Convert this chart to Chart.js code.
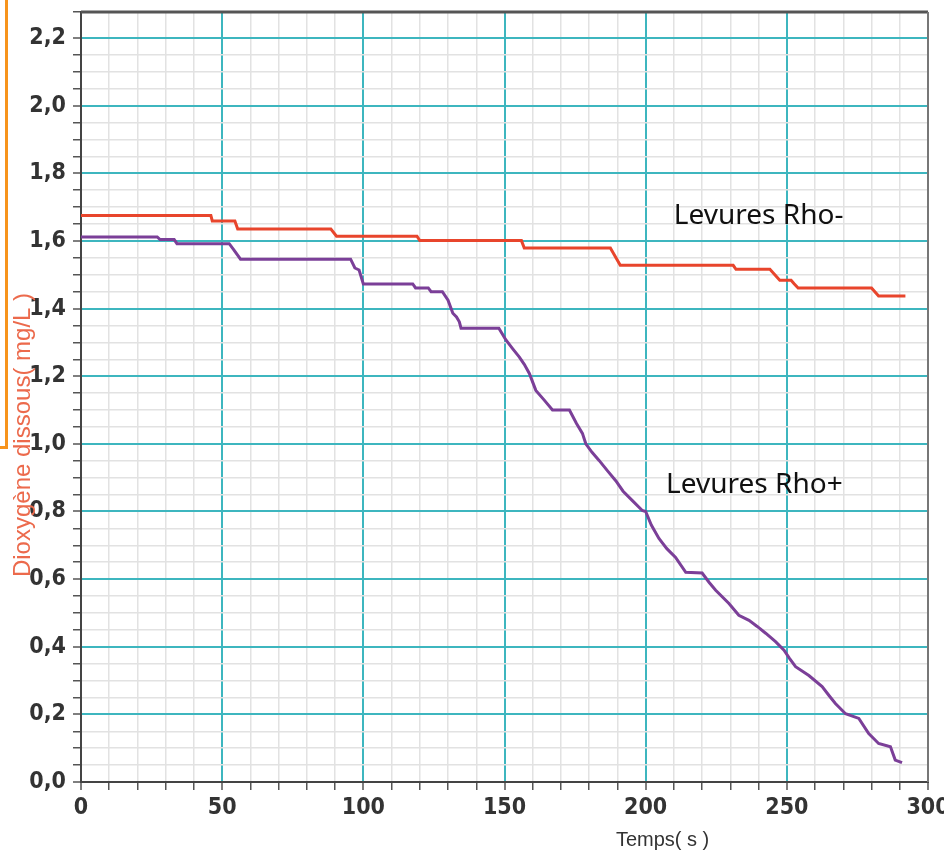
<!DOCTYPE html>
<html lang="fr">
<head>
<meta charset="UTF-8">
<title>Dioxygène dissous - Levures Rho+ / Rho-</title>
<script src="https://cdn.jsdelivr.net/npm/chart.js@4.4.1/dist/chart.umd.min.js"></script>
<style>
    body { margin: 0; background: #fff; }
    .cadre { position: relative; width: 944px; height: 853px; overflow: hidden; }
    .trait-orange {
        position: absolute; left: -10px; top: -10px; width: 15px; height: 456px;
        border-right: 3px solid #f7941d; border-bottom: 3px solid #f7941d;
    }
</style>
</head>
<body>
<div class="cadre">
    <canvas id="graphO2" width="944" height="853"></canvas>
    <div class="trait-orange"></div>
</div>
<script>
const tempsRhoMoins = [0, 46, 46.5, 54.5, 55.5, 88.5, 90.5, 119, 120, 156, 157, 187.5, 191, 231, 232, 244, 247.5, 251.5, 252.5, 254, 280, 282.5, 292];
const o2RhoMoins = [1.675, 1.675, 1.659, 1.659, 1.635, 1.635, 1.614, 1.614, 1.601, 1.601, 1.579, 1.579, 1.528, 1.528, 1.516, 1.516, 1.484, 1.484, 1.474, 1.461, 1.461, 1.437, 1.437];

const tempsRhoPlus = [0, 27, 28, 33, 34, 52.5, 54, 56.5, 95.5, 97, 98.5, 100, 117.5, 118.5, 123, 124, 128, 130, 131.7, 133, 134, 134.6, 148,
    150.5, 153, 155.2, 157, 158.8, 161.1, 164, 167, 173, 175.5, 177.6, 178.8, 181, 183.5, 186.5, 189.4, 192, 195.3, 198.8, 200,
    202, 204.7, 207.5, 210.6, 214.2, 220, 222.5, 224.8, 229.5, 233, 236.6, 239.5, 242.5, 246, 249, 251, 253.1, 257.8, 262.5,
    265, 267.2, 270.8, 275.5, 279, 282.5, 286.7, 288.4, 290.8];
const o2RhoPlus = [1.612, 1.612, 1.604, 1.604, 1.592, 1.592, 1.575, 1.546, 1.546, 1.52, 1.514, 1.473, 1.473, 1.461, 1.461, 1.45, 1.45, 1.425, 1.386, 1.375, 1.361, 1.342, 1.342,
    1.307, 1.28, 1.257, 1.235, 1.208, 1.158, 1.13, 1.1, 1.1, 1.06, 1.031, 1.0, 0.975, 0.951, 0.92, 0.891, 0.86, 0.832, 0.803, 0.8,
    0.76, 0.72, 0.69, 0.664, 0.62, 0.618, 0.59, 0.567, 0.528, 0.493, 0.478, 0.46, 0.44, 0.415, 0.39, 0.365, 0.341, 0.315, 0.282,
    0.255, 0.232, 0.202, 0.188, 0.143, 0.114, 0.104, 0.065, 0.057];

const ticksTemps = [0, 50, 100, 150, 200, 250, 300];
const ticksO2 = [0, 0.2, 0.4, 0.6, 0.8, 1.0, 1.2, 1.4, 1.6, 1.8, 2.0, 2.2];

// 2. STYLES
const TURQUOISE = '#3db6bf';
const GRIS_CLAIR = '#e2e2e2';
const POLICE_TICKS = { family: "'Liberation Sans Narrow', 'DejaVu Sans Condensed', Arial, sans-serif", size: 23, weight: 'bold' };

function estMajeur(valeur, liste) {
    return liste.some(t => Math.abs(t - valeur) < 1e-6);
}

function versPoints(xs, ys) {
    return xs.map((x, i) => ({ x: x, y: ys[i] }));
}

// 3. TEXTES ET CADRE (titres, étiquettes des courbes)
const pluginTextes = {
    id: 'textes',
    afterDraw(chart) {
        const ctx = chart.ctx;
        const zone = chart.chartArea;
        const sx = chart.scales.x;
        const sy = chart.scales.y;

        // cadre haut et droite
        ctx.save();
        ctx.strokeStyle = '#555';
        ctx.lineWidth = 3;
        ctx.beginPath();
        ctx.moveTo(zone.left, zone.top);
        ctx.lineTo(zone.right, zone.top);
        ctx.stroke();
        ctx.strokeStyle = '#777';
        ctx.lineWidth = 2;
        ctx.beginPath();
        ctx.moveTo(zone.right, zone.top);
        ctx.lineTo(zone.right, zone.bottom);
        ctx.stroke();

        // titre axe Y
        ctx.fillStyle = '#ec6a4c';
        ctx.font = "24px 'Liberation Sans', Arial, sans-serif";
        ctx.textAlign = 'center';
        ctx.textBaseline = 'middle';
        ctx.translate(23, 435);
        ctx.rotate(-Math.PI / 2);
        ctx.fillText('Dioxygène dissous( mg/L )', 0, 0);
        ctx.restore();

        // titre axe X
        ctx.save();
        ctx.fillStyle = '#333';
        ctx.font = "20px 'Liberation Sans', Arial, sans-serif";
        ctx.textAlign = 'center';
        ctx.textBaseline = 'middle';
        ctx.fillText('Temps( s )', sx.getPixelForValue(206), 840);

        // étiquettes des courbes
        ctx.fillStyle = '#111';
        ctx.font = "28px 'Noto Sans', sans-serif";
        ctx.textBaseline = 'alphabetic';
        ctx.fillText('Levures Rho-', sx.getPixelForValue(240), sy.getPixelForValue(1.649));
        ctx.fillText('Levures Rho+', sx.getPixelForValue(238.5), sy.getPixelForValue(0.855));
        ctx.restore();
    }
};

// 4. GRAPHIQUE
new Chart(document.getElementById('graphO2'), {
    type: 'line',
    data: {
        datasets: [
            {
                label: 'Levures Rho+',
                data: versPoints(tempsRhoPlus, o2RhoPlus),
                borderColor: '#7b3f98',
                borderWidth: 3,
                pointRadius: 0,
                tension: 0
            },
            {
                label: 'Levures Rho-',
                data: versPoints(tempsRhoMoins, o2RhoMoins),
                borderColor: '#e8452c',
                borderWidth: 3,
                pointRadius: 0,
                tension: 0
            }
        ]
    },
    options: {
        responsive: false,
        animation: false,
        layout: { padding: { top: 12, right: 16, left: 0, bottom: 0 } },
        plugins: { legend: { display: false }, tooltip: { enabled: false } },
        scales: {
            x: {
                type: 'linear',
                min: 0,
                max: 300,
                afterFit: (scale) => {
                    scale.height = 71;
                    scale.paddingLeft = 0;
                    scale.paddingRight = 0;
                },
                ticks: {
                    stepSize: 10,
                    autoSkip: false,
                    maxRotation: 0,
                    padding: 4,
                    color: '#333',
                    font: POLICE_TICKS,
                    callback: (v) => estMajeur(v, ticksTemps) ? String(v) : ''
                },
                grid: {
                    color: (c) => estMajeur(c.tick.value, ticksTemps) ? TURQUOISE : GRIS_CLAIR,
                    lineWidth: (c) => estMajeur(c.tick.value, ticksTemps) ? 2 : 1.5,
                    tickColor: '#555',
                    tickLength: 8,
                    tickWidth: 1.5
                },
                border: { color: '#444', width: 2 }
            },
            y: {
                min: 0,
                max: 2.277,
                afterFit: (scale) => {
                    scale.width = 81;
                    scale.paddingTop = 0;
                    scale.paddingBottom = 0;
                },
                ticks: {
                    stepSize: 0.05,
                    autoSkip: false,
                    maxTicksLimit: 100,
                    padding: 7,
                    color: '#333',
                    font: POLICE_TICKS,
                    callback: (v) => estMajeur(v, ticksO2) ? v.toFixed(1).replace('.', ',') : ''
                },
                grid: {
                    color: (c) => estMajeur(c.tick.value, ticksO2) ? TURQUOISE : GRIS_CLAIR,
                    lineWidth: (c) => estMajeur(c.tick.value, ticksO2) ? 2 : 1.5,
                    tickColor: '#555',
                    tickLength: 8,
                    tickWidth: 1.5
                },
                border: { color: '#444', width: 2 }
            }
        }
    },
    plugins: [pluginTextes]
});
</script>
</body>
</html>
